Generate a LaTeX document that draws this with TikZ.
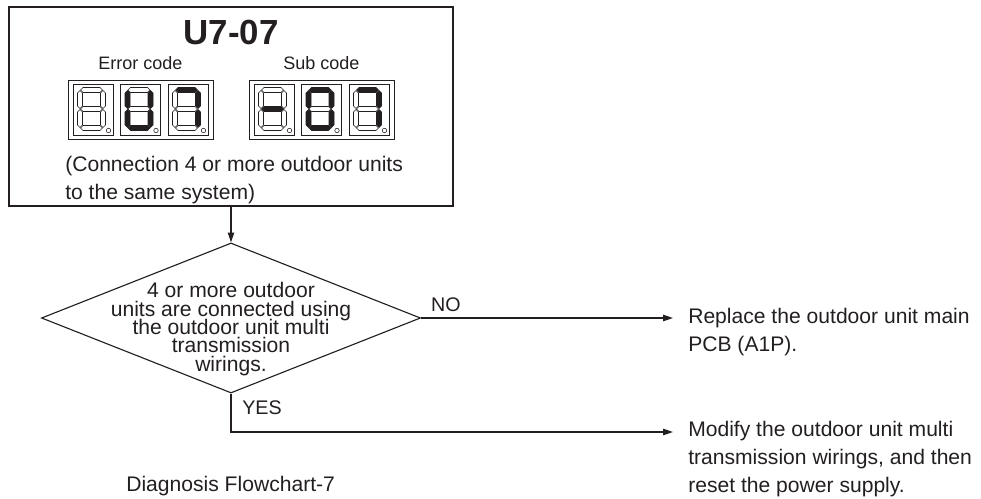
\documentclass[tikz,border=0pt]{standalone}
\usepackage{fontspec}
\setmainfont{Liberation Sans}
\usepackage{xcolor}
\definecolor{fcink}{HTML}{231F20}
\usetikzlibrary{arrows.meta,positioning,shapes.geometric}
\newcommand{\fctight}{\setlength{\lineskiplimit}{-20pt}}
\tikzset{
  fcbox/.style     ={rectangle, draw=fcink, line width=0.8pt, minimum width=11.1cm,
                     minimum height=4.975cm, inner sep=0pt},
  fcdecision/.style={diamond, draw=fcink, line width=0.8pt, minimum width=9.475cm,
                     minimum height=3.75cm, inner sep=0pt},
  fctext/.style    ={font=\fontsize{15}{19.9}\selectfont, text=fcink, align=left, inner sep=0pt},
  fcquestion/.style={font={\fontsize{15}{13}\selectfont\fctight}, text=fcink,
                     align=center, inner sep=0pt},
  fcanswer/.style  ={font=\fontsize{14}{16}\selectfont, text=fcink, inner sep=0pt},
  fctitle/.style   ={font=\fontsize{24.8}{28}\selectfont\bfseries, text=fcink, inner sep=0pt},
  fcsub/.style     ={font=\fontsize{12.8}{15}\selectfont, text=fcink, inner sep=0pt},
  fcarrow/.style   ={-{Triangle[length=7pt,width=4.5pt]}, draw=fcink, line width=0.8pt},
  segframe/.style  ={draw=fcink, line width=0.6pt},
  segoff/.style    ={draw=fcink, line width=0.4pt, fill=white},
  segon/.style     ={draw=fcink, line width=0.4pt, fill=fcink},
}
% one segment of a seven segment digit
\newcommand{\hseg}[2]{\draw[#1] (0.5,#2) -- ++(2.5,-2.5) -- ++(17,0) -- ++(2.5,2.5)
  -- ++(-2.5,2.5) -- ++(-17,0) -- cycle;}
\newcommand{\vseg}[3]{\draw[#1] (#2,#3) -- ++(2.5,2.5) -- ++(0,13) -- ++(-2.5,2.5)
  -- ++(-2.5,-2.5) -- ++(0,-13) -- cycle;}
% cell at (#1,#2), segments a b c d e f g
\newcommand{\segcell}[9]{%
  \begin{scope}[shift={(#1,#2)}]
    \draw[segframe] (0,0) rectangle (40,51);
    \begin{scope}[shift={(7,6)}]
      \hseg{seg#3}{0}
      \vseg{seg#4}{23}{0.5}
      \vseg{seg#5}{23}{19.5}
      \hseg{seg#6}{38}
      \vseg{seg#7}{0}{19.5}
      \vseg{seg#8}{0}{0.5}
      \hseg{seg#9}{19}
    \end{scope}
    \draw[segoff] (35.5,46.5) circle[radius=1.6pt];
  \end{scope}}

\begin{document}
\begin{tikzpicture}[x=0.025cm, y=-0.025cm]
  \useasboundingbox (0,0) rectangle (981,499);
  \node[fcbox] (codebox) at (231,106.5) {};
  \node[fctitle] (code) at (231,32) {U7-07};
  \node[fcsub] (errlabel) at (140.5,63) {Error code};
  \node[fcsub] (sublabel) at (321.5,63) {Sub code};
  % error code display
  \draw[segframe] (68,80) rectangle (213,139);
  \segcell{73}{84}{off}{off}{off}{off}{off}{off}{off}
  \segcell{120.5}{84}{off}{on}{on}{on}{on}{on}{off}
  \segcell{168}{84}{on}{on}{on}{off}{off}{off}{off}
  % sub code display
  \draw[segframe] (249,80) rectangle (394,139);
  \segcell{254}{84}{off}{off}{off}{off}{off}{off}{on}
  \segcell{301.5}{84}{on}{on}{on}{on}{on}{on}{off}
  \segcell{349}{84}{on}{on}{on}{off}{off}{off}{off}
  \node[fctext, anchor=west] (cond) at (65,180)
       {(Connection 4 or more outdoor units\\to the same system)};

  \node[fcdecision] (check) at (231,318) {};
  \node[fcquestion] (checktext) at (231,329)
       {4 or more outdoor\\units are connected using\\the outdoor unit multi\\transmission\\wirings.};
  \draw[fcarrow] (codebox.south) -- (check.north);

  \coordinate (notip) at (673,318);
  \draw[fcarrow] (check.east) -- (notip);
  \node[fcanswer] (nolabel) at (446,305) {NO};
  \node[fctext, anchor=west] (replace) at (688,332)
       {Replace the outdoor unit main\\PCB (A1P).};

  \coordinate (yesturn) at (231,432);
  \coordinate (yestip) at (673,432);
  \draw[fcarrow] (check.south) -- (yesturn) -- (yestip);
  \node[fcanswer, anchor=west] (yeslabel) at (242,408) {YES};
  \node[fctext, anchor=west] (modify) at (688,459)
       {Modify the outdoor unit multi\\transmission wirings, and then\\reset the power supply.};

  \node[fctext, anchor=west] (caption) at (126,486) {Diagnosis Flowchart-7};
\end{tikzpicture}
\end{document}
